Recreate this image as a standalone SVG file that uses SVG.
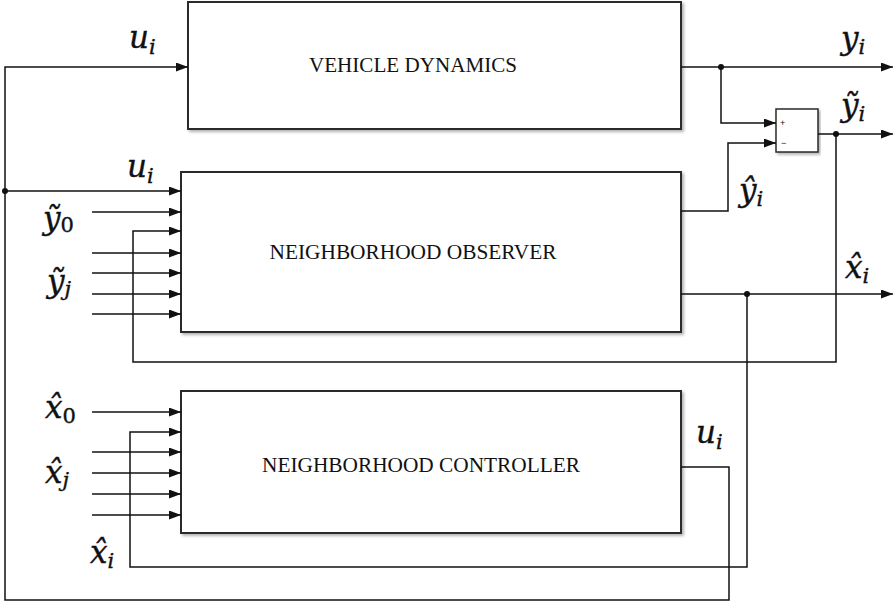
<svg xmlns="http://www.w3.org/2000/svg" width="896" height="603" viewBox="0 0 896 603">
<style>
.box{fill:#fff;stroke:#2a2a2a;stroke-width:2;filter:url(#sh)}
.ln{fill:none;stroke:#111;stroke-width:1.5}
.lbl{font-family:"Liberation Serif","Times New Roman",serif;font-size:20px;fill:#111}
.m{font-family:"DejaVu Serif","Liberation Serif",serif;font-style:italic;font-size:31px;fill:#111;stroke:#111;stroke-width:0.4}
.s{font-size:21px}
.up{font-style:normal}
.tiny{font-family:"Liberation Sans",Arial,sans-serif;font-size:9px;fill:#111}
</style>
<defs>
<marker id="ar" viewBox="0 0 12 9" refX="12" refY="4.5" markerWidth="12" markerHeight="9" markerUnits="userSpaceOnUse" orient="auto">
<path d="M0,0 L12,4.5 L0,9 Z" fill="#111"/>
</marker>
<filter id="sh" x="-5%" y="-5%" width="110%" height="115%">
<feDropShadow dx="2" dy="2" stdDeviation="1.5" flood-color="#000" flood-opacity="0.3"/>
</filter>
</defs>

<g id="vehicle-dynamics">
<rect class="box" x="188" y="2" width="493" height="127"/>
<text class="lbl" x="413" y="72" text-anchor="middle" textLength="208" lengthAdjust="spacingAndGlyphs">VEHICLE DYNAMICS</text>
</g>

<g id="neighborhood-observer">
<rect class="box" x="181" y="172" width="500" height="160"/>
<text class="lbl" x="413" y="259" text-anchor="middle" textLength="287" lengthAdjust="spacingAndGlyphs">NEIGHBORHOOD OBSERVER</text>
</g>

<g id="neighborhood-controller">
<rect class="box" x="181" y="391" width="500" height="142"/>
<text class="lbl" x="421" y="472" text-anchor="middle" textLength="318" lengthAdjust="spacingAndGlyphs">NEIGHBORHOOD CONTROLLER</text>
</g>

<g id="summing-junction">
<rect x="776" y="109" width="42" height="43" fill="#fff" stroke="#2a2a2a" stroke-width="1.5" filter="url(#sh)"/>
<text class="tiny" x="780" y="126">+</text>
<text class="tiny" x="781" y="146">−</text>
</g>

<g id="connectors">
<path class="ln" d="M681,467 H729 V600 H5 V67 H188" marker-end="url(#ar)"/>
<path class="ln" d="M5,191 H181" marker-end="url(#ar)"/>
<circle cx="5" cy="191" r="3" fill="#111"/>

<path class="ln" d="M681,67 H893" marker-end="url(#ar)"/>
<circle cx="721" cy="67" r="3" fill="#111"/>
<path class="ln" d="M721,67 V123 H776" marker-end="url(#ar)"/>

<path class="ln" d="M681,211 H728 V143 H776" marker-end="url(#ar)"/>

<path class="ln" d="M818,134 H893" marker-end="url(#ar)"/>
<circle cx="836" cy="134" r="3" fill="#111"/>
<path class="ln" d="M836,134 V362 H133 V231 H181" marker-end="url(#ar)"/>

<path class="ln" d="M681,294 H893" marker-end="url(#ar)"/>
<circle cx="747" cy="294" r="3" fill="#111"/>
<path class="ln" d="M747,294 V567 H130 V432 H181" marker-end="url(#ar)"/>

<path class="ln" d="M92,212 H181" marker-end="url(#ar)"/>
<path class="ln" d="M92,253 H181" marker-end="url(#ar)"/>
<path class="ln" d="M92,273 H181" marker-end="url(#ar)"/>
<path class="ln" d="M92,294 H181" marker-end="url(#ar)"/>
<path class="ln" d="M92,314 H181" marker-end="url(#ar)"/>

<path class="ln" d="M92,412 H181" marker-end="url(#ar)"/>
<path class="ln" d="M92,452 H181" marker-end="url(#ar)"/>
<path class="ln" d="M92,473 H181" marker-end="url(#ar)"/>
<path class="ln" d="M92,494 H181" marker-end="url(#ar)"/>
<path class="ln" d="M92,515 H181" marker-end="url(#ar)"/>
</g>

<g id="labels">
<text class="m" x="129" y="48">u<tspan class="s" dy="6">i</tspan></text>
<text class="m" x="127" y="177">u<tspan class="s" dy="6">i</tspan></text>
<text class="m" x="43" y="229">ỹ<tspan class="s up" dy="3">0</tspan></text>
<text class="m" x="47" y="292">ỹ<tspan class="s" dy="4">j</tspan></text>
<text class="m" x="45" y="418">x̂<tspan class="s up" dy="5">0</tspan></text>
<text class="m" x="45" y="483">x̂<tspan class="s" dy="4">j</tspan></text>
<text class="m" x="90" y="563">x̂<tspan class="s" dy="5">i</tspan></text>
<text class="m" x="739" y="201">ŷ<tspan class="s" dy="5">i</tspan></text>
<text class="m" x="845" y="278">x̂<tspan class="s" dy="5">i</tspan></text>
<text class="m" x="841" y="49">y<tspan class="s" dy="5">i</tspan></text>
<text class="m" x="841" y="116">ỹ<tspan class="s" dy="5">i</tspan></text>
<text class="m" x="696" y="443">u<tspan class="s" dy="6">i</tspan></text>
</g>
</svg>
